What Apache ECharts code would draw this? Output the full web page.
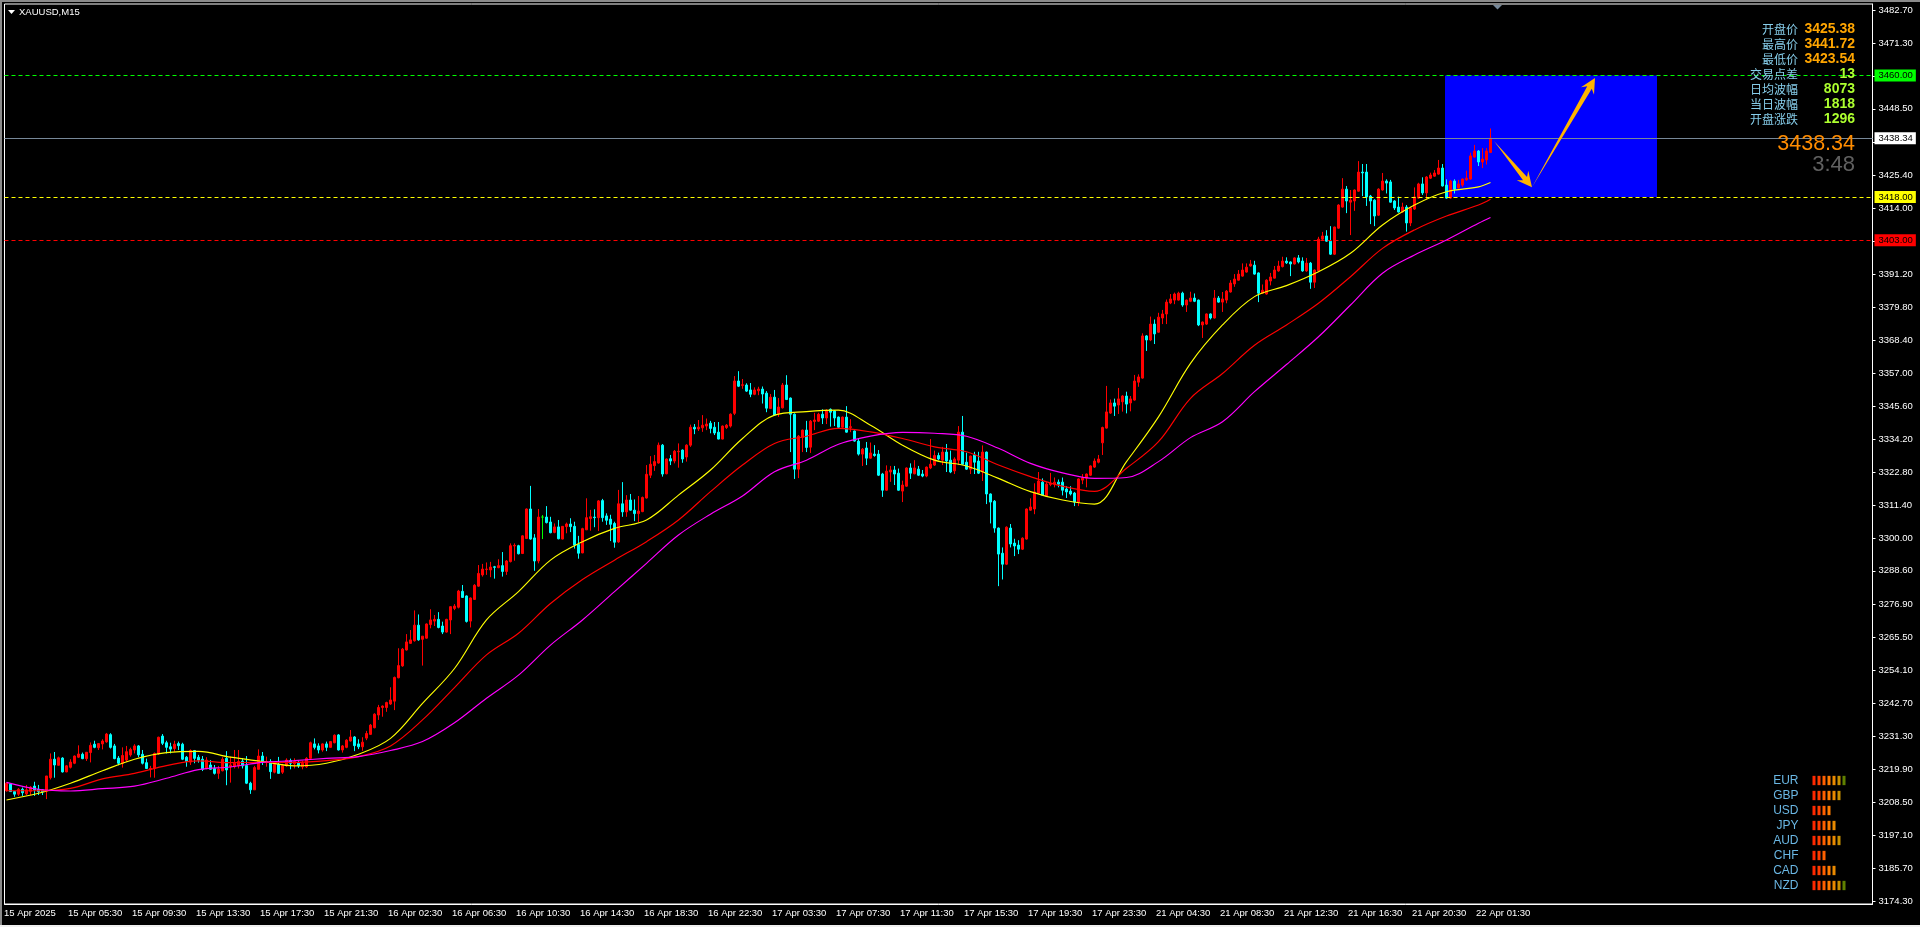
<!DOCTYPE html>
<html><head><meta charset="utf-8">
<style>
html,body{margin:0;padding:0;background:#000;overflow:hidden}
#c{position:absolute;left:0;top:0;width:1920px;height:927px}
.s{position:absolute;pointer-events:none}
</style>
<script src="https://cdn.jsdelivr.net/npm/echarts@6/dist/echarts.min.js"></script>
</head><body>
<div id="c"></div>
<div class="s" style="left:0;top:0;width:1920px;height:2px;background:#8a8a8a"></div>
<div class="s" style="left:0;top:0;width:2px;height:927px;background:#8a8a8a"></div>
<div class="s" style="left:0;top:925px;width:1920px;height:2px;background:#f0f0f0"></div>
<script>
// rows: open, high, low, close
const barsApr15 = [
[3212.5,3215.3,3212.2,3215.1],[3214.8,3215,3212.2,3212.2],[3212.2,3212.2,3210.4,3211.3],[3211.3,3213.4,3210.7,3213],
[3213,3213.6,3210.7,3211.8],[3211.4,3214.5,3210.9,3212.8],[3212.3,3214.1,3211,3213.7],[3214.1,3215.6,3210.7,3212.8],
[3213,3214.5,3211,3212.2],[3212.8,3213,3211,3212.1],[3212.4,3217.6,3209.6,3217.6],[3217,3225.4,3216.4,3223.4],
[3223.4,3225.9,3217,3221.4],[3221.3,3224.3,3221.2,3223.9],[3223.8,3224.1,3218.8,3219],[3219,3221.4,3218.9,3221.1],
[3220.6,3223.4,3220.2,3222.4],[3222,3224.7,3221.7,3224.5],[3224.1,3228.2,3223.8,3225.2],[3225.1,3225.7,3223.4,3223.6],
[3223.6,3225.9,3222.8,3225.8],[3225.7,3229.2,3222.3,3228.2],[3228.6,3229.8,3227.2,3227.5],[3227.4,3228.9,3226.6,3228.8],
[3228.7,3230.3,3226.8,3229.7],[3229.4,3232.5,3229.1,3232.1],[3231.9,3232.4,3227.1,3227.5],[3228,3228.7,3223.4,3223.6],
[3223.8,3224.5,3221.3,3222],[3222,3227.5,3220.5,3224.7],[3223.1,3228,3222.4,3226],[3224.9,3227.4,3224.3,3226.8],
[3226.6,3228.6,3225.4,3228],[3228,3228.3,3224.1,3224.9],[3225.1,3226.6,3221.6,3222],[3222.2,3223.6,3220,3220.2],
[3220,3221.1,3217.1,3220.2],[3220.2,3225.7,3217,3225.4],[3225.2,3231.2,3224.9,3231],[3231.4,3232.1,3228.3,3228.9],
[3229.1,3229.8,3225.4,3227.5],[3227.7,3229.1,3225.4,3226.9],[3227.1,3229.8,3226,3228.6],[3228.8,3229.5,3226.6,3228.1],
[3228.6,3229.1,3223.1,3223.4],[3224.1,3224.5,3220.8,3222.6],[3222.4,3226.8,3221.4,3226.4],[3226.4,3226.6,3222,3223.7],
[3224.1,3224.9,3222.2,3223.1],[3223.4,3224.5,3219.3,3219.9],[3220.2,3224.1,3219.9,3223.1],[3221.4,3223.1,3219.7,3219.9],
[3220.2,3221.4,3218.1,3218.5],[3218.5,3221.1,3216.6,3220],[3219.4,3224.1,3219.2,3223.4],[3223.7,3226.2,3214.4,3219.7],
[3220.8,3224.3,3215.3,3221.4],[3220.8,3226.6,3220.2,3222],[3221.1,3226.6,3220.2,3222.6],[3222.7,3223.8,3220.2,3221.1],
[3221.2,3224.5,3214.8,3215.1],[3215.1,3215.6,3211.4,3212.8],[3212.8,3221.1,3212.8,3220.5],[3219.9,3226.8,3219.9,3224.5],
[3224.5,3225.9,3221.4,3222.6],[3222.4,3224.3,3220.8,3222.6],[3222.6,3223.4,3216.6,3219.1],[3218.9,3222.2,3218.5,3221.6],
[3221.6,3224.2,3218.4,3218.5],[3218.9,3221.8,3218.3,3221.2],[3221.1,3223.7,3220.8,3223.1],[3222.9,3223.6,3219.9,3222],
[3221.8,3223.7,3220.2,3222.6],[3222,3222.9,3220.4,3221.1],[3220.8,3222.9,3219.9,3222],[3220.8,3224.1,3220.4,3223.7]
];
const barsApr16 = [
[3223.7,3229.5,3223.5,3229.1],[3228.7,3230.6,3226.8,3227.5],[3228,3228.9,3225.4,3226.6],[3226.6,3228.9,3226,3228.7],
[3228.7,3229.5,3226.2,3227.5],[3227.5,3229.7,3227.4,3229.5],[3229.1,3232,3228.9,3231.7],[3231.8,3232.1,3226.4,3226.6],
[3226.6,3228.3,3225.7,3228],[3227.5,3230.3,3227.2,3230],[3229.7,3233.5,3229.5,3231.1],[3231.1,3231.4,3226.2,3228.1],
[3228.7,3230.3,3226.9,3227.7],[3227.7,3231,3226.3,3229.3],[3230.7,3233.2,3230,3232.3],[3232,3235.6,3231.8,3235.2],
[3234.3,3239.3,3234.1,3239],[3238.7,3242.2,3237,3241.3],[3241.3,3242,3238.1,3241.8],[3241.3,3243.3,3239.8,3243],
[3242.5,3248.3,3242.2,3243.9],[3243.5,3252,3240.4,3251.7],[3251.6,3261.8,3251.4,3255.8],[3255.7,3261.9,3255.4,3261.5],
[3261.2,3266.7,3261,3264],[3263.5,3268.1,3263.3,3264.7],[3264.4,3274.9,3264.1,3269.8],[3269.8,3273.5,3264.4,3264.7],
[3264.9,3266,3255.8,3266],[3265.3,3270.4,3265.1,3270.2],[3270,3275.3,3268.7,3271.6],[3271.2,3273.3,3269.5,3271.8],
[3271.8,3274.3,3268.7,3269],[3269.5,3271,3266.7,3267.4],[3267.4,3272,3267.2,3271.8],[3271.6,3276.4,3266.7,3276.2],
[3275.6,3277.1,3275,3276.4],[3276,3282,3275.6,3281.6],[3281.5,3283.7,3279.2,3279.4],[3279.9,3280.1,3270.7,3271.1],
[3271.2,3279.4,3269,3279.2],[3278.7,3284,3278.5,3283.6],[3283.3,3290.6,3283.1,3287.7],[3287.2,3291,3286.6,3289.2],
[3289.1,3291.5,3287.2,3289.2],[3288.9,3291.7,3286.4,3289.9],[3290,3290.3,3285.9,3289.8],[3289.7,3292.6,3289.5,3290.4],
[3290.4,3295.1,3286.6,3288.4],[3288.4,3292.3,3287.2,3292],[3291.8,3298.1,3291.5,3297.3],[3297.2,3298.1,3292.1,3297.4],
[3297.3,3297.6,3294.3,3294.5],[3294.6,3300.9,3294.4,3300.7],[3299.8,3310.2,3299.6,3310],[3310,3318,3299.4,3299.6],
[3300,3301.3,3288.6,3292],[3292,3310,3291.2,3307.2],[3307.2,3307.9,3299.6,3307.2],[3307.2,3311,3305,3305.3],
[3305.5,3307.3,3301.6,3301.8],[3301.9,3305,3301.6,3303.8],[3303.8,3306.2,3299.5,3299.7],[3299.6,3304.1,3299.5,3304],
[3303.9,3305.3,3301.6,3304.8],[3304.8,3306.8,3302,3303.9],[3304,3305.6,3296.3,3297.5],[3297.7,3300.7,3292.8,3294.7],
[3294.8,3303.5,3294.7,3303.2],[3302.8,3313.7,3302.7,3307],[3306.7,3309.7,3302.5,3307.3],[3307.2,3309.9,3303.7,3307],
[3307,3313.1,3302.4,3312.8],[3312.9,3313.5,3305.6,3307],[3307.6,3308.5,3304.5,3306.1],[3306.5,3308,3298.9,3304.7],
[3305,3305.6,3296.6,3298.5],[3298.6,3316.6,3298.3,3311.8],[3311.8,3319.3,3307.3,3309],[3309,3314.8,3307.3,3313.1],
[3313.1,3315.2,3309.4,3309.6],[3309.6,3313.3,3305.8,3308.4],[3308.4,3314.5,3305.4,3309.3],[3309.1,3314.3,3308.9,3314]
];
const barsApr17 = [
[3313.8,3325.2,3313.6,3322],[3321.7,3328.3,3320.7,3325.5],[3325,3328.7,3323.2,3326.4],[3325.9,3333,3325.7,3332.1],
[3332.1,3332.5,3321.2,3322.1],[3322.2,3327.5,3322,3327.3],[3327.4,3328.7,3325.2,3326.6],[3326.6,3330.4,3325.8,3330],
[3329.8,3332.7,3324.3,3330],[3330.4,3330.6,3326,3327.3],[3328,3332.4,3326.4,3332.1],[3332.1,3339.2,3331.5,3338.3],
[3338.3,3339.4,3335.9,3337.7],[3337.7,3340.8,3337,3338.3],[3338.1,3342.5,3336.7,3339],[3338.7,3341.3,3337.3,3339.4],
[3339.7,3340.5,3336.2,3337.9],[3338.3,3340.1,3335.6,3336.3],[3336.6,3340.1,3334.1,3334.2],[3334.2,3338.9,3334.1,3338.7],
[3338.2,3339.4,3337.7,3339],[3338.7,3343.1,3338.2,3342.8],[3343.1,3356,3342.5,3354.3],[3354.3,3357.7,3352.2,3352.5],
[3352.8,3355,3351.6,3353],[3352.9,3353.5,3350.5,3350.8],[3351.2,3353.6,3348.7,3349.7],[3349.7,3352.1,3349.4,3351.2],
[3350.9,3352.3,3349.4,3351.5],[3351.5,3352.4,3346.5,3349.8],[3350.1,3350.8,3343.5,3344.9],[3344.8,3349.8,3344.6,3348.7],
[3348.7,3351.2,3342.3,3342.5],[3343.1,3348.4,3341.9,3345.3],[3345,3353.6,3344.8,3352.9],[3352.9,3356.3,3347.7,3347.9],
[3348.4,3348.6,3329.7,3342.8],[3342.8,3343.1,3320.4,3323.8],[3323.8,3335.6,3320.7,3335.2],[3334.8,3337.5,3329.7,3337.3],
[3337.3,3340.5,3329.7,3331.3],[3331.4,3340.8,3329.4,3340.4],[3340.3,3343.3,3337.3,3340.8],[3340.4,3343.3,3340.1,3342.8],
[3342.8,3344.5,3339.4,3341.5],[3341.5,3344.5,3339.4,3344.2],[3344.5,3344.8,3338.5,3343.5],[3343.9,3344.2,3338.7,3341.5],
[3341.8,3342,3338.1,3338.3],[3338.3,3342,3338.1,3341.8],[3341.8,3345.6,3336.4,3336.6],[3338.2,3341.1,3336.6,3338.5],
[3337,3337.2,3333.3,3333.5],[3333.5,3334.5,3328.5,3329],[3329,3331.1,3324.9,3330.7],[3331.1,3333.2,3325.2,3327.6],
[3327.6,3333,3327.4,3329.4],[3329,3332.1,3328.1,3328.5],[3329,3330.4,3321.4,3321.7],[3322.1,3322.5,3314.2,3316.5],
[3316.5,3325.1,3316.3,3323.1],[3322.8,3324.9,3319.4,3323.5],[3323.5,3324.9,3318.3,3322.1],[3322.4,3324,3316.3,3316.5],
[3316.2,3319.8,3312.4,3318.3],[3317.9,3324.4,3317.7,3324.2],[3324.2,3325.8,3320.4,3322.4],[3322.2,3326.9,3322,3324.2],
[3323.8,3324.9,3321.4,3321.7],[3322.1,3323.5,3321,3321.4],[3321.4,3324.7,3321,3324.5],[3324.2,3334.2,3323.8,3325.5],
[3325.2,3330.2,3324.9,3328.5],[3328.5,3329.5,3326.9,3327.3],[3326.9,3331.5,3325.2,3329.7],[3329.7,3332.5,3322.8,3326.6],
[3326.9,3330.2,3322.4,3322.8],[3323.2,3327.9,3322.1,3327.3],[3326.9,3338.7,3325.2,3336.6],[3336.6,3342.2,3325.2,3325.5],
[3326.2,3329.5,3323.5,3323.8],[3323.8,3328.5,3322.1,3328.3],[3328.7,3329.8,3322.1,3326.2],[3326.6,3329.8,3322.1,3322.4],
[3322.8,3332,3319.7,3329.7],[3329.7,3329.9,3311.7,3315.2],[3315.2,3315.4,3305,3312.4],[3312.7,3313.1,3301.8,3303.4],
[3303.4,3303.6,3283.3,3294.4],[3294.7,3296.7,3285.6,3290.9],[3290.9,3304,3290.6,3303.7],[3303.4,3304.8,3296.7,3297.9],
[3298.2,3299.7,3293.7,3297.2],[3297.5,3299.2,3294.4,3296.1],[3296.1,3300.2,3295.8,3299.9],[3299.6,3310.2,3299.4,3310],
[3309.6,3313.7,3309.4,3310.7],[3310,3318.9,3308.2,3315.9],[3315.5,3322.8,3315.2,3319.7],[3319.3,3320.6,3314.5,3314.8],
[3314.5,3319.3,3314.2,3318.6],[3318.5,3322.5,3317.9,3318.9],[3318.6,3320.9,3317.5,3319.3],[3319.3,3320.2,3317.5,3318.6],
[3319.3,3320.9,3314.7,3316.5],[3316.9,3317.9,3313.8,3315.9],[3316.2,3317.9,3314.7,3315.2],[3315.5,3315.9,3311,3312.4],
[3312.4,3320.6,3311,3320.4],[3320,3322.1,3318.6,3320.7],[3320.7,3322.3,3317.5,3322.1],[3321.7,3325.1,3321.4,3324.9],
[3324.5,3327.5,3324.2,3326.6],[3326.2,3328.7,3325.8,3327.3]
];
const barsApr21 = [
[3332.9,3338.5,3328.7,3338.2],[3338,3352.6,3337.8,3343.6],[3343.2,3347.9,3342.9,3346.7],[3346.7,3348.2,3342.2,3345.6],
[3346,3351.9,3342.9,3348.1],[3347.1,3349.4,3343.7,3349.1],[3349.1,3350.6,3343.1,3346.3],[3346.7,3349.1,3343.8,3348.1],
[3347.7,3356.4,3347.5,3354.3],[3353.9,3356.6,3352.3,3355.7],[3355.3,3370.8,3355.1,3369.9],[3369.9,3370.2,3364.7,3368.5],
[3368.5,3376.6,3368.1,3374],[3374,3375.6,3367.1,3370.6],[3371.2,3377.9,3371,3376.4],[3376.1,3378.9,3374,3377.5],
[3377.5,3382.5,3374,3381.6],[3381.3,3384.4,3380.9,3382.7],[3382.3,3384.9,3380.9,3384.4],[3382.3,3385.2,3382.1,3384.7],
[3384.7,3385.2,3380,3380.6],[3380.6,3382.5,3378.2,3382.3],[3381.9,3385.2,3381.6,3383],[3383,3384.6,3381.6,3381.9],
[3382.3,3382.5,3373.3,3373.7],[3373.7,3374.9,3369.2,3374.7],[3374,3377.7,3373.7,3377.5],[3377.5,3377.7,3375.6,3376.1],
[3376.1,3385.8,3375.9,3383],[3383,3383.7,3381.4,3381.6],[3381.6,3385.1,3378.2,3382.7],[3382.3,3385.8,3381.2,3385.4],
[3385.1,3389.2,3384.9,3388.2],[3387.9,3391.3,3386.9,3389.6],[3389.2,3392.7,3389,3391.3],[3390.6,3395,3390.4,3392.7],
[3392,3395,3391.8,3393.7],[3394.1,3396.2,3393.9,3394.8],[3394.4,3395.9,3391.1,3391.3],[3391.7,3391.9,3381.6,3384.7],
[3384.7,3387.7,3384.4,3385.7],[3384.4,3389.5,3384.2,3389.2],[3388.9,3391.7,3387.4,3390.3],[3389.9,3394.1,3389.8,3392.7],
[3392.4,3395.9,3392.1,3394.1],[3393.9,3397.3,3393.6,3395.8],[3395.8,3397.1,3394.8,3395.2],[3395.5,3395.7,3390.6,3394.8],
[3394.8,3397.1,3394.6,3396.9],[3396.9,3397.9,3395,3395.5],[3395.8,3397.1,3392.1,3392.4],[3392.4,3396.9,3392.1,3395.1],
[3395.1,3395.5,3386.2,3388.5],[3388.5,3392.9,3386.5,3392.7],[3392.5,3404.2,3392.2,3403.4],[3403.4,3405.9,3403.1,3404.5],
[3404.5,3406.5,3402.5,3402.7],[3402.7,3407.9,3397.9,3398.2],[3398.2,3407.7,3397.9,3407.6],[3407.2,3415.5,3407,3415.2],
[3414.5,3424.5,3414.3,3420.7],[3420.7,3421.8,3412.4,3416.6],[3416.2,3420.4,3404.8,3416.9],[3416.6,3420.6,3413.2,3420.4],
[3420,3430.4,3419.8,3426.6],[3426.6,3429.4,3418.3,3426.3],[3426.6,3429.4,3414.9,3418],[3418.3,3418.7,3408.6,3416.6],
[3416.9,3417.2,3407.9,3411.4],[3411.7,3421,3411.4,3420.7],[3420.4,3426.3,3420.2,3423.5],[3423.5,3424.1,3419.2,3422.8],
[3423.2,3423.9,3416,3416.2],[3416.6,3416.9,3413.5,3414.2],[3414.5,3418.1,3412.6,3412.8],[3412.8,3416,3412.6,3414.5],
[3414.5,3415.2,3406,3409],[3409,3414.6,3407.9,3414.2],[3413.8,3421.3,3413.5,3418],[3417.6,3422.9,3417.4,3422.5],
[3422.5,3424.8,3418.7,3419.4],[3419.4,3425.2,3417.2,3424.9],[3424.5,3426.4,3424.2,3425.6],[3425.2,3427.3,3425,3426.3],
[3425.9,3430.8,3425.7,3428],[3428,3429.4,3421.6,3421.8],[3422.1,3424.1,3417.4,3417.6],[3417.6,3423.9,3417.4,3423.5],
[3423.5,3424.1,3419.2,3420.7],[3421.1,3423.9,3420.9,3422.5],[3422.1,3424.4,3421.5,3424.2],[3423.9,3427.1,3423.6,3424.5],
[3424.2,3433.3,3424,3432.2],[3431.8,3436,3431.6,3433.9],[3433.9,3434.2,3428.7,3430.1],[3430.1,3434.9,3428,3431.1],
[3430.8,3434.9,3429.2,3433.9],[3433.4,3441.7,3433.2,3438.34]
];
const maBarIndex = [0,8,16,24,32,40,48,56,64,72,80,88,96,104,112,120,128,136,144,152,160,168,176,184,192,200,208,216,224,232,240,248,256,264,272,280,288,296,304,312,320,328,336,344,352,360,368,371];
const maYellow = [3209.3,3211.6,3215.1,3219.4,3223.4,3225.7,3226.1,3224.1,3222.6,3221.1,3222,3225.1,3230.6,3242.7,3254.8,3271.6,3281.4,3292.3,3298.7,3303.3,3306.2,3314.8,3323.5,3334.4,3342.5,3343.7,3344.2,3339,3332.1,3326.9,3324.9,3320.6,3316,3313.1,3311.7,3326.4,3341.9,3360.4,3373.7,3383.5,3387.3,3392.1,3398.5,3408.3,3415.2,3419.8,3421.5,3423];
const maRed = [3212.5,3212.5,3213.3,3216.6,3218.5,3221.2,3222.8,3222.2,3222.3,3222.3,3222.9,3224.3,3228,3237,3248.2,3259.5,3267,3277.3,3285.6,3292.3,3298.7,3306.2,3316,3325.2,3332.7,3335.2,3337.9,3336.7,3334.4,3331.5,3329.8,3325.2,3321.2,3317.9,3316.1,3324.1,3333.3,3348.3,3356.9,3366.7,3373.7,3381.2,3390.4,3400.2,3406.6,3411.4,3415.2,3417.2];
const maMagenta = [3215.4,3213,3212.4,3213.2,3214.1,3216.8,3219.8,3220.7,3222.3,3222.9,3223.7,3224.3,3226.4,3229.5,3236,3244.5,3252.5,3262.9,3271.6,3281.4,3291.2,3301,3308.2,3314.5,3322.9,3326.9,3332.4,3335.2,3336.5,3336.2,3335.2,3331,3325.8,3322.5,3320.6,3320.9,3326.4,3334.7,3340.2,3350.6,3360,3369.6,3380.6,3391.6,3397.9,3403.1,3408.9,3410.9];
const timeLabels = ['15 Apr 2025','15 Apr 05:30','15 Apr 09:30','15 Apr 13:30','15 Apr 17:30','15 Apr 21:30','16 Apr 02:30','16 Apr 06:30','16 Apr 10:30','16 Apr 14:30','16 Apr 18:30','16 Apr 22:30','17 Apr 03:30','17 Apr 07:30','17 Apr 11:30','17 Apr 15:30','17 Apr 19:30','17 Apr 23:30','21 Apr 04:30','21 Apr 08:30','21 Apr 12:30','21 Apr 16:30','21 Apr 20:30','22 Apr 01:30'];
const priceTicks = [3482.7,3471.3,3459.9,3448.5,3437.1,3425.4,3414,3402.6,3391.2,3379.8,3368.4,3357,3345.6,3334.2,3322.8,3311.4,3300,3288.6,3276.9,3265.5,3254.1,3242.7,3231.3,3219.9,3208.5,3197.1,3185.7,3174.3];
const levelPrices = [3460,3418,3403];
const levelColors = ['#00ff00','#ffff00','#ff0000'];
const lastPrice = 3438.34;
const zone = [359.625,3460,412.625,3418];
const arrowLegs = [[371.875,3437.4,381.375,3421.4],[381.375,3421.4,397.125,3459.2]];
const infoNames = ['开盘价','最高价','最低价','交易点差','日均波幅','当日波幅','开盘涨跌'];
const infoValues = ['3425.38','3441.72','3423.54','13','8073','1818','1296'];
const infoColors = ['#ffa500','#ffa500','#ffa500','#adff2f','#adff2f','#adff2f','#adff2f'];
const currencies = ['EUR','GBP','USD','JPY','AUD','CHF','CAD','NZD'];
const strength = [7,6,4,5,6,3,5,7];
const strengthColors = ['#ff2800','#ff3c00','#ff6000','#ff7c00','#ea8a00','#c89000','#608000'];

const FONT = '"Liberation Sans", Arial, sans-serif';
const CJK = '"Noto Sans CJK SC", sans-serif';
const bars = [...barsApr15, ...barsApr16, ...barsApr17, ...barsApr21];
const slots = 467;
const categories = Array.from({length: slots}, (_, i) => (i % 16 === 0 && timeLabels[i / 16]) || String(i));
const onTick = i => i % 16 === 0 && i / 16 < timeLabels.length;
// category axes round fractional positions, so the fraction of a band is added here
const place = (api, i, p) => {
  const f = Math.floor(i), c = api.coord([f, p]);
  return [c[0] + (i - f) * api.size([1, 0])[0], c[1]];
};

const chart = echarts.init(document.getElementById('c'), null, {renderer: 'canvas'});
const info = [];
infoNames.forEach((n, k) => {
  const y = 29.3 + k * 15;
  info.push({type: 'text', z: 50, style: {text: n, x: 1798, y, align: 'right', verticalAlign: 'middle', fill: '#87ceeb', font: '12px ' + CJK}});
  info.push({type: 'text', z: 50, style: {text: infoValues[k], x: 1855, y, align: 'right', verticalAlign: 'middle', fill: infoColors[k], font: 'bold 14px ' + FONT}});
});
const lvl = (p, c, bg) => ({
  yAxis: p,
  lineStyle: {color: c},
  label: {show: true, position: 'end', distance: 2, formatter: p.toFixed(2), color: '#000', backgroundColor: bg, padding: [1, 3, 1, 4], fontSize: 9.5, fontFamily: FONT}
});
chart.setOption({
  animation: false,
  backgroundColor: '#000',
  grid: [
    {left: 4.5, top: 4, width: 1868, height: 900, show: true, borderColor: '#fff', borderWidth: 1, backgroundColor: '#000'},
    {left: 1812.5, top: 773, width: 60, height: 120}
  ],
  xAxis: [
    {type: 'category', gridIndex: 0, data: categories, boundaryGap: true,
      axisLine: {lineStyle: {color: '#fff'}},
      axisTick: {interval: (i) => onTick(i), alignWithLabel: true, length: 3, lineStyle: {color: '#fff'}},
      axisLabel: {interval: (i) => onTick(i), align: 'left', color: '#fff', fontSize: 9.5, fontFamily: FONT, margin: 4, padding: [0, 0, 0, -2.5], hideOverlap: false},
      splitLine: {show: false}},
    {type: 'value', gridIndex: 1, min: 0, max: 12, show: false}
  ],
  yAxis: [
    {type: 'value', gridIndex: 0, position: 'right', min: 3173.29, max: 3484.78, scale: true,
      axisLine: {show: true, lineStyle: {color: '#fff'}},
      axisTick: {show: true, length: 3, lineStyle: {color: '#fff'}, customValues: priceTicks},
      axisLabel: {color: '#fff', fontSize: 9.5, fontFamily: FONT, margin: 6, customValues: priceTicks, formatter: v => v.toFixed(2)},
      splitLine: {show: false}},
    {type: 'category', gridIndex: 1, inverse: true, data: currencies,
      axisLine: {show: false}, axisTick: {show: false},
      axisLabel: {interval: 0, color: '#6ab7e4', fontSize: 12, fontFamily: FONT, margin: 14}}
  ],
  series: [
    {type: 'custom', name: 'zone', xAxisIndex: 0, yAxisIndex: 0, z: 1, silent: true, clip: true, data: [0],
      renderItem: (p, api) => {
        const a = place(api, zone[0], zone[1]), b = place(api, zone[2], zone[3]);
        return {type: 'rect', shape: {x: a[0], y: a[1], width: b[0] - a[0], height: b[1] - a[1]}, style: {fill: '#0000ff'}};
      }},
    {type: 'candlestick', name: 'XAUUSD', xAxisIndex: 0, yAxisIndex: 0, z: 3, barWidth: 2, silent: true,
      data: bars.map(r => [r[0], r[3], r[2], r[1]]),
      itemStyle: {color: '#ff0000', color0: '#00ffff', borderColor: '#ff0000', borderColor0: '#00ffff', borderColorDoji: '#00ff00', borderWidth: 1}},
    ...[[maYellow, '#ffff00'], [maRed, '#ff0000'], [maMagenta, '#ff00ff']].map(([vals, c], k) => ({
      type: 'line', name: 'ma' + k, xAxisIndex: 0, yAxisIndex: 0, z: 5 + k, silent: true, showSymbol: false, smooth: 0.35,
      data: vals.map((v, j) => [maBarIndex[j], v]), lineStyle: {color: c, width: 1.15}, itemStyle: {color: c}
    })),
    {type: 'line', name: 'levels', xAxisIndex: 0, yAxisIndex: 0, z: 4, silent: true, data: [],
      markLine: {silent: true, symbol: 'none', animation: false, precision: 2,
        lineStyle: {type: [4, 3], width: 1.2},
        data: [
          lvl(levelPrices[0], levelColors[0], levelColors[0]),
          lvl(levelPrices[1], levelColors[1], levelColors[1]),
          lvl(levelPrices[2], levelColors[2], levelColors[2]),
          {yAxis: lastPrice, lineStyle: {color: '#778899', type: 'solid'},
            label: {show: true, position: 'end', distance: 2, formatter: lastPrice.toFixed(2), color: '#000', backgroundColor: '#fff', padding: [1, 3, 1, 4], fontSize: 9.5, fontFamily: FONT}}
        ]}},
    {type: 'custom', name: 'arrows', xAxisIndex: 0, yAxisIndex: 0, z: 9, silent: true, clip: false, data: arrowLegs.map((_, i) => i),
      renderItem: (p, api) => {
        const l = arrowLegs[p.dataIndex];
        const a = place(api, l[0], l[1]), t = place(api, l[2], l[3]);
        const dx = t[0] - a[0], dy = t[1] - a[1], L = Math.hypot(dx, dy), ux = dx / L, uy = dy / L, nx = -uy, ny = ux;
        const at = (d, w) => [t[0] - ux * d + nx * w, t[1] - uy * d + ny * w];
        return {type: 'polygon', shape: {points: [a, at(11, 2.6), at(15, 7.5), t, at(15, -7.5), at(11, -2.6)]}, style: {fill: '#ffb400'}};
      }},
    {type: 'custom', name: 'strength', xAxisIndex: 1, yAxisIndex: 1, z: 10, silent: true, clip: false,
      data: strength.map((n, i) => [n, i]),
      renderItem: (p, api) => {
        const n = api.value(0), row = p.dataIndex, kids = [];
        const h = api.size([0, 1])[1] * 0.62, w = api.size([1, 0])[0] * 0.6;
        for (let k = 0; k < n; k++) {
          const c = api.coord([k, row]);
          kids.push({type: 'rect', shape: {x: c[0], y: c[1] - h / 2, width: w, height: h}, style: {fill: strengthColors[k]}});
        }
        return {type: 'group', children: kids};
      }}
  ],
  graphic: [
    {type: 'polygon', z: 50, shape: {points: [[8, 10], [15, 10], [11.5, 14]]}, style: {fill: '#fff'}},
    {type: 'text', z: 50, style: {text: 'XAUUSD,M15', x: 19, y: 12, verticalAlign: 'middle', fill: '#fff', font: '9.5px ' + FONT}},
    {type: 'polygon', z: 50, shape: {points: [[1493, 5], [1502, 5], [1497.5, 9.5]]}, style: {fill: '#778899'}},
    ...info,
    {type: 'text', z: 50, style: {text: '3438.34', x: 1855, y: 144, align: 'right', verticalAlign: 'middle', fill: '#ff8c00', font: '21.5px ' + FONT}},
    {type: 'text', z: 50, style: {text: '3:48', x: 1855, y: 165, align: 'right', verticalAlign: 'middle', fill: '#606060', font: '22px ' + FONT}}
  ]
});
</script>
</body></html>
